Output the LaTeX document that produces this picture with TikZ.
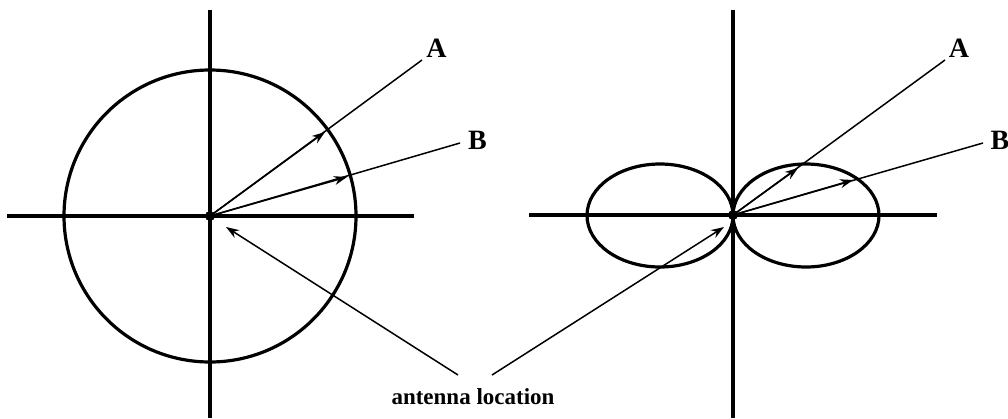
\documentclass[tikz,border=0pt]{standalone}
\usepackage{fontspec}
\setmainfont{Liberation Serif}
\usetikzlibrary{arrows.meta}
\begin{document}
\begin{tikzpicture}[x=1pt,y=-1pt,
  axis/.style={line width=4.2pt},
  pattern/.style={line width=3.2pt},
  ray/.style={line width=1.5pt},
  tip/.style={line width=1.5pt,-{Stealth[length=13pt,width=9pt]}},
  lbl/.style={font=\bfseries\fontsize{28}{32}\selectfont,inner sep=0pt},
  note/.style={font=\bfseries\fontsize{23}{27}\selectfont,inner sep=0pt}]
\useasboundingbox (0,0) rectangle (1008,418);
% left diagram
\coordinate (O1) at (210,216);
\draw[axis] (210,10) -- (210,418);
\draw[axis] (7,216) -- (414,216);
\draw[pattern] (O1) circle[radius=146];
\node[lbl] (A1) at (436.5,48) {A};
\node[lbl] (B1) at (477.5,140) {B};
\coordinate (A1e) at (422,60);
\coordinate (B1e) at (460,143);
\coordinate (A1t) at (325,132);
\coordinate (B1t) at (347,177);
\draw[ray] (O1) -- (A1e);
\draw[ray] (O1) -- (B1e);
\draw[tip] (O1) -- (A1t);
\draw[tip] (O1) -- (B1t);
\fill (O1) circle[radius=5];
% right diagram
\coordinate (O2) at (733,215);
\draw[axis] (733,10) -- (733,418);
\draw[axis] (529,215) -- (937,215);
\draw[pattern] (660,215.5) ellipse[x radius=73,y radius=51.5];
\draw[pattern] (806,215.5) ellipse[x radius=73,y radius=51.5];
\node[lbl] (A2) at (959,48) {A};
\node[lbl] (B2) at (1000,140) {B};
\coordinate (A2e) at (945,60);
\coordinate (B2e) at (983,143);
\coordinate (A2t) at (798,168);
\coordinate (B2t) at (853,180);
\draw[ray] (O2) -- (A2e);
\draw[ray] (O2) -- (B2e);
\draw[tip] (O2) -- (A2t);
\draw[tip] (O2) -- (B2t);
\fill (O2) circle[radius=5];
% antenna location
\node[note] (loc) at (473,397) {antenna location};
\coordinate (L1) at (458,375);
\coordinate (L2) at (492,375);
\coordinate (T1) at (226,227);
\coordinate (T2) at (724,227);
\draw[tip] (L1) -- (T1);
\draw[tip] (L2) -- (T2);
\end{tikzpicture}
\end{document}
